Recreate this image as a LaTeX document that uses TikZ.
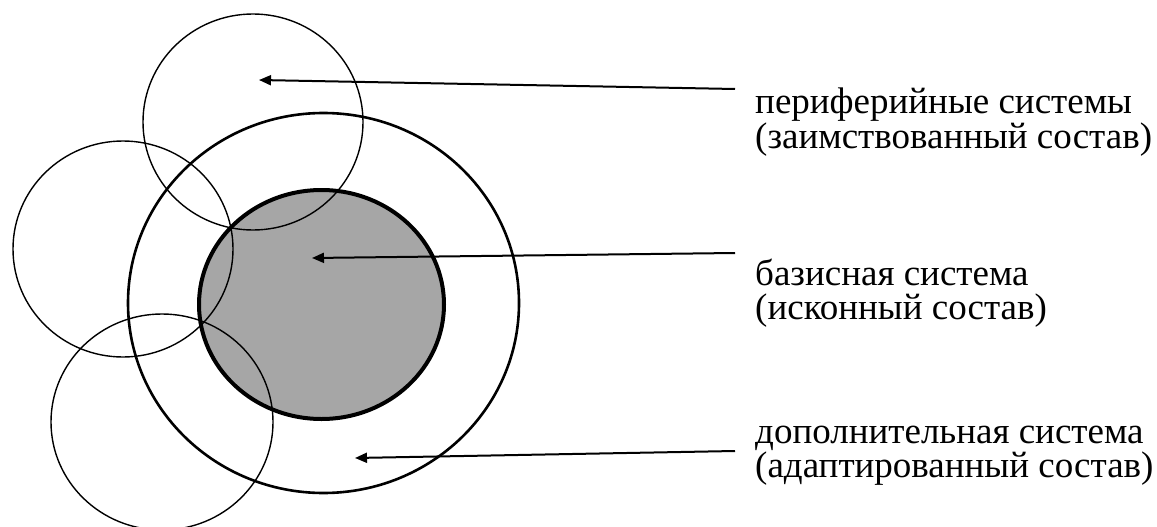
\documentclass[tikz,border=0pt]{standalone}
\usepackage{fontspec}
\setmainfont{Liberation Serif}
\usetikzlibrary{arrows.meta}
\definecolor{core}{RGB}{166,166,166}
\tikzset{
  thin circ/.style={draw=black, line width=1.4pt},
  outer circ/.style={draw=black, line width=2.6pt},
  core circ/.style={draw=black, fill=core, line width=4pt},
  pointer/.style={draw=black, line width=2pt, -{Triangle[length=12pt,width=10pt]}},
  label/.style={anchor=base west, align=left, inner sep=0pt, font=\fontsize{37}{33.5}\selectfont}
}
\begin{document}
\begin{tikzpicture}[x=1pt,y=-1pt]
\useasboundingbox (0,0) rectangle (1157,527);
% core
\path[core circ] (321.5,304.5) ellipse [x radius=122.5, y radius=114.5];
% outer
\path[outer circ] (323.5,303) ellipse [x radius=195.5, y radius=190];
% peripheral circles
\path[thin circ] (253,122) ellipse [x radius=110, y radius=108];
\path[thin circ] (123,249) ellipse [x radius=110, y radius=108];
\path[thin circ] (162,422) ellipse [x radius=111, y radius=108];
% labels
\node[label] (l1) at (755,148) {периферийные системы\\(заимствованный состав)};
\node[label] (l2) at (755,319) {базисная система\\(исконный состав)};
\node[label] (l3) at (755,477) {дополнительная система\\(адаптированный состав)};
% arrow targets
\coordinate (s1) at (735,89);
\coordinate (t1) at (259,80);
\coordinate (s2) at (735,253);
\coordinate (t2) at (312,258);
\coordinate (s3) at (735,451);
\coordinate (t3) at (355,458);
\draw[pointer] (s1) -- (t1);
\draw[pointer] (s2) -- (t2);
\draw[pointer] (s3) -- (t3);
\end{tikzpicture}
\end{document}
